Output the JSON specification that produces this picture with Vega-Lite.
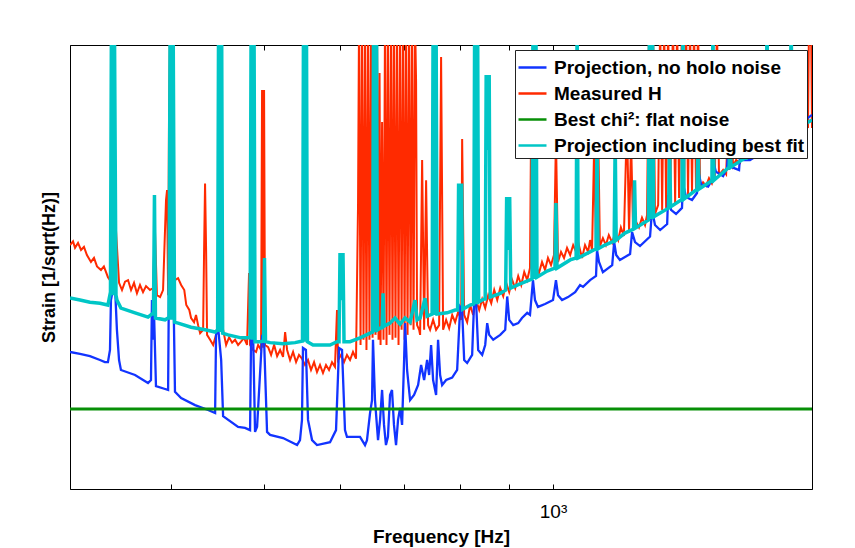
{
"$schema": "https://vega.github.io/schema/vega-lite/v6.json",
"width": 742, "height": 444,
"autosize": {"type": "none"},
"padding": {"left": 70, "top": 45, "right": 43, "bottom": 59},
"background": "white",
"config": {
 "view": {"stroke": "black", "strokeWidth": 1},
 "font": "Liberation Sans",
 "axis": {"grid": false, "domainColor": "black", "tickColor": "black", "labelColor": "black", "titleColor": "black", "labelFont": "Liberation Sans", "titleFont": "Liberation Sans"},
 "legend": {"orient": "top-right", "offset": 5, "fillColor": "white", "strokeColor": "#222", "padding": 2, "symbolType": "stroke", "symbolSize": 784, "symbolStrokeWidth": 2.5, "labelFont": "Liberation Sans", "labelFontSize": 19, "labelFontWeight": "bold", "labelColor": "black", "rowPadding": -5, "labelOffset": 6, "labelLimit": 400}
},
"resolve": {"axis": {"x": "independent"}},
"encoding": {
 "y": {"field": "s", "type": "quantitative", "scale": {"type": "log", "domain": [1, 1000], "nice": false},
       "axis": {"labels": false, "ticks": false, "domain": false, "title": "Strain [1/sqrt(Hz)]", "titleFontSize": 18, "titleFontWeight": "bold", "titlePadding": 12}}
},
"datasets": {
"red": [
{"f":314,"s":44.5},{"f":316.3,"s":47.1},{"f":317.8,"s":42.6},{"f":320.1,"s":46.0},{"f":322.4,"s":41.2},{"f":324.7,"s":43.2},{"f":327.0,"s":38.1},{"f":330.2,"s":34.2},{"f":332.6,"s":36.4},{"f":335.0,"s":31.9},{"f":338.2,"s":30.2},{"f":340.6,"s":31.9},{"f":343.9,"s":27.0},{"f":345.6,"s":25.8},{"f":347.3,"s":89.7},{"f":349.0,"s":155},{"f":350.6,"s":56.2},{"f":353.2,"s":24.7},{"f":355.7,"s":22.1},{"f":358.3,"s":25.2},{"f":360.9,"s":25.8},{"f":363.5,"s":22.1},{"f":366.1,"s":24.7},{"f":368.7,"s":21.0},{"f":371.4,"s":23.9},{"f":374.1,"s":21.4},{"f":376.8,"s":23.5},{"f":380.4,"s":22.1},{"f":383.1,"s":22.8},{"f":384.9,"s":58.0},{"f":386.8,"s":20.4},{"f":389.7,"s":19.8},{"f":392.5,"s":22.1},{"f":395.3,"s":89.7},{"f":396.3,"s":104.8},{"f":397.3,"s":20.4},{"f":398.2,"s":364},{"f":399.2,"s":1500},{"f":400.2,"s":41.2},{"f":403.9,"s":25.8},{"f":406.9,"s":26.6},{"f":409.9,"s":23.9},{"f":413.0,"s":22.1},{"f":415.0,"s":17.5},{"f":418.0,"s":16.2},{"f":419.8,"s":14.3},{"f":422.8,"s":13.4},{"f":424.8,"s":15.0},{"f":426.9,"s":12.8},{"f":429.0,"s":11.3},{"f":432.1,"s":11.9},{"f":433.1,"s":41.2},{"f":434.1,"s":116},{"f":435.2,"s":41.2},{"f":436.2,"s":11.0},{"f":439.4,"s":10.2},{"f":442.6,"s":9.4},{"f":445.7,"s":11.0},{"f":450.1,"s":12.4},{"f":453.3,"s":11.9},{"f":456.6,"s":9.4},{"f":459.9,"s":10.6},{"f":463.2,"s":9.75},{"f":466.5,"s":10.2},{"f":469.9,"s":9.4},{"f":473.2,"s":9.9},{"f":476.6,"s":10.5},{"f":480.1,"s":9.4},{"f":482.4,"s":28.8},{"f":483.6,"s":9.4},{"f":487.1,"s":8.7},{"f":490.6,"s":8.43},{"f":493.0,"s":9.4},{"f":496.5,"s":8.7},{"f":497.7,"s":497},{"f":499.0,"s":9.0},{"f":500.1,"s":497},{"f":501.3,"s":9.4},{"f":505.0,"s":9.1},{"f":508.6,"s":8.05},{"f":512.3,"s":9.4},{"f":516.0,"s":7.91},{"f":519.7,"s":8.7},{"f":523.4,"s":7.8},{"f":526.0,"s":11.5},{"f":528.5,"s":8.7},{"f":532.3,"s":7.44},{"f":536.1,"s":8.43},{"f":540.0,"s":7.2},{"f":543.8,"s":8.05},{"f":547.7,"s":7.6},{"f":551.7,"s":6.89},{"f":555.7,"s":7.44},{"f":559.7,"s":6.37},{"f":563.8,"s":7.2},{"f":567.8,"s":6.17},{"f":571.9,"s":6.89},{"f":576.0,"s":6.08},{"f":580.2,"s":6.89},{"f":584.4,"s":6.37},{"f":588.6,"s":7.2},{"f":592.8,"s":6.69},{"f":595.7,"s":16.2},{"f":597.2,"s":7.44},{"f":601.4,"s":8.05},{"f":605.8,"s":7.2},{"f":610.1,"s":8.05},{"f":614.6,"s":7.44},{"f":619.0,"s":8.43},{"f":623.5,"s":7.6},{"f":626.5,"s":83.0},
{"f":628.0,"s":1500},{"f":630.3,"s":9.4},{"f":632.5,"s":1500},{"f":634.8,"s":10.2},{"f":637.1,"s":1500},{"f":639.3,"s":8.7},{"f":641.7,"s":1500},{"f":643.9,"s":10.2},{"f":646.3,"s":1500},{"f":648.7,"s":10.5},{"f":651.0,"s":1500},{"f":653.3,"s":11.0},{"f":655.7,"s":1500},{"f":658.1,"s":10.2},{"f":659.7,"s":647},{"f":661.3,"s":9.4},{"f":663.7,"s":301.5},{"f":666.0,"s":10.2},{"f":668.4,"s":1500},{"f":670.8,"s":9.4},{"f":673.1,"s":1500},{"f":675.6,"s":11.0},{"f":678.1,"s":1500},{"f":680.5,"s":10.2},{"f":682.9,"s":1500},{"f":685.4,"s":10.5},{"f":687.9,"s":1500},{"f":690.4,"s":9.4},{"f":693.0,"s":1500},{"f":695.5,"s":11.9},{"f":698.0,"s":1500},{"f":700.5,"s":10.2},{"f":703.0,"s":1500},{"f":705.5,"s":11.0},{"f":708.1,"s":1500},{"f":710.7,"s":12.8},{"f":713.2,"s":1500},{"f":715.7,"s":11.9},{"f":718.3,"s":1500},{"f":720.1,"s":562},{"f":721.8,"s":12.8},
{"f":725.4,"s":11.9},{"f":727.1,"s":11.0},{"f":730.6,"s":167},{"f":734.1,"s":11.9},{"f":737.6,"s":122},{"f":741.1,"s":12.8},{"f":744.7,"s":11.9},{"f":750.1,"s":13.9},{"f":755.5,"s":11.9},{"f":761.0,"s":12.8},{"f":764.6,"s":830},{"f":768.3,"s":11.9},{"f":773.9,"s":13.9},{"f":779.5,"s":12.2},{"f":785.2,"s":15.0},{"f":790.8,"s":13.4},{"f":796.5,"s":15.7},{"f":802.3,"s":13.9},{"f":804.2,"s":232},{"f":808.1,"s":15.0},{"f":813.9,"s":13.4},{"f":819.8,"s":17.5},{"f":825.7,"s":15.0},{"f":831.6,"s":18.9},{"f":837.8,"s":16.2},{"f":843.8,"s":19.2},{"f":849.9,"s":16.7},{"f":856.1,"s":20.4},{"f":862.3,"s":18.0},{"f":868.5,"s":22.1},{"f":874.8,"s":18.9},{"f":881.1,"s":22.8},{"f":887.5,"s":20.1},{"f":893.8,"s":24.7},{"f":900.3,"s":21.4},{"f":906.8,"s":25.8},{"f":913.3,"s":22.8},{"f":919.9,"s":27.5},{"f":926.6,"s":23.9},{"f":933.3,"s":29.3},{"f":940.0,"s":25.8},{"f":946.3,"s":31.1},{"f":948.6,"s":239},{"f":953.1,"s":27.9},{"f":959.9,"s":32.0},{"f":966.9,"s":28.8},{"f":974.0,"s":34.2},{"f":981.0,"s":30.2},{"f":988.0,"s":36.4},{"f":995.2,"s":32.6},{"f":1002.3,"s":38.1},{"f":1007.1,"s":239},{"f":1012.1,"s":34.2},{"f":1019.4,"s":40.0},{"f":1026.8,"s":36.4},{"f":1034.2,"s":42.6},{"f":1042,"s":38.1},{"f":1049.5,"s":44.5},{"f":1057,"s":40.0},{"f":1062.2,"s":46.6},
{"f":1067,"s":41.2},{"f":1072.2,"s":36.4},{"f":1079.8,"s":44.5},{"f":1087.8,"s":40.0},{"f":1093,"s":48.1},{"f":1098.2,"s":41.2},{"f":1103.5,"s":195},{"f":1108.7,"s":42.6},{"f":1114,"s":311},{"f":1119,"s":43.8},{"f":1127.1,"s":49.6},{"f":1135.2,"s":44.5},{"f":1143.2,"s":52.0},{"f":1152.5,"s":46.2},{"f":1160.8,"s":54.1},{"f":1169.2,"s":48.1},{"f":1176.8,"s":58.6},{"f":1185.3,"s":51.2},{"f":1194,"s":311},{"f":1200.1,"s":54.1},{"f":1205.9,"s":228},{"f":1211.7,"s":56.2},{"f":1220.4,"s":63.7},{"f":1229.0,"s":58.6},{"f":1237.9,"s":68.1},{"f":1246.9,"s":60.8},{"f":1253.0,"s":71.1},{"f":1259,"s":1500},{"f":1265.0,"s":65.7},{"f":1271.1,"s":1500},{"f":1277.1,"s":72.2},{"f":1286.8,"s":83.0},{"f":1293,"s":1500},{"f":1299.2,"s":76.8},{"f":1305.4,"s":1500},{"f":1311.7,"s":79.3},{"f":1318,"s":1500},{"f":1324,"s":83.0},{"f":1333.6,"s":1500},{"f":1340.3,"s":85.6},{"f":1346.7,"s":1500},{"f":1353.0,"s":92.5},{"f":1362.5,"s":1500},{"f":1369,"s":89.7},{"f":1375.9,"s":1500},{"f":1382.5,"s":96.9},{"f":1389,"s":1500},{"f":1395.7,"s":100},{"f":1402.4,"s":1500},{"f":1409.1,"s":104.8},{"f":1415.9,"s":1500},{"f":1423,"s":108},{"f":1433.2,"s":118},{"f":1443.6,"s":111.7},{"f":1453.7,"s":126},{"f":1464,"s":116},{"f":1474.5,"s":132},{"f":1481.6,"s":1500},{"f":1488.9,"s":132},{"f":1503.7,"s":143},{"f":1514.6,"s":134},{"f":1522,"s":311},{"f":1525.3,"s":143},{"f":1532.7,"s":311},{"f":1540.1,"s":152},{"f":1551.3,"s":167},{"f":1566,"s":160},{"f":1577.3,"s":311},{"f":1584.8,"s":172},{"f":1604,"s":181},{"f":1643,"s":201},{"f":1683,"s":221},{"f":1724,"s":247},{"f":1766,"s":267},{"f":1808,"s":297},{"f":1838.8,"s":301},{"f":1843.3,"s":275},{"f":1847.7,"s":1500},{"f":1856.6,"s":1500},{"f":1861,"s":275}
],
"blue": [
{"f":314,"s":8.43},{"f":321.6,"s":8.17},{"f":329.4,"s":7.91},{"f":337.4,"s":7.44},{"f":341.4,"s":7.2},{"f":343.9,"s":7.2},{"f":345.6,"s":8.7},{"f":346.4,"s":18.9},{"f":348.0,"s":22.1},{"f":349.8,"s":23.2},{"f":351.4,"s":11.9},{"f":353.2,"s":7.44},{"f":354.8,"s":6.37},{"f":367.0,"s":5.89},{"f":378.6,"s":5.2},{"f":381.3,"s":5.45},{"f":382.2,"s":18.9},{"f":383.1,"s":10.2},{"f":383.9,"s":17.5},{"f":385.9,"s":4.96},{"f":394.4,"s":4.74},{"f":397.3,"s":4.67},{"f":398.2,"s":31.6},{"f":400.2,"s":18.9},{"f":402.1,"s":30.2},{"f":403.9,"s":4.53},{"f":409.9,"s":4.11},{"f":423.8,"s":3.69},{"f":437.3,"s":3.42},{"f":444.7,"s":3.26},{"f":445.7,"s":11.0},{"f":447.9,"s":12.4},{"f":451.2,"s":7.44},{"f":453.3,"s":3.11},{"f":469.9,"s":2.63},{"f":477.8,"s":2.59},{"f":483.6,"s":2.5},{"f":484.8,"s":11.3},{"f":487.1,"s":11.3},{"f":489.4,"s":2.43},{"f":491.8,"s":2.63},{"f":497.7,"s":10.6},{"f":500.1,"s":10.2},{"f":503.7,"s":2.43},{"f":507.4,"s":2.32},{"f":523.4,"s":2.21},{"f":541.3,"s":1.98},{"f":545.1,"s":2.14},{"f":547.7,"s":2.93},{"f":549.0,"s":8.97},{"f":552.9,"s":8.7},{"f":555.7,"s":2.93},{"f":561.1,"s":2.14},{"f":567.8,"s":1.98},{"f":585.8,"s":2.07},{"f":594.3,"s":2.5},{"f":598.6,"s":8.97},{"f":602.9,"s":8.7},{"f":607.2,"s":2.5},{"f":610.1,"s":2.25},{"f":629.5,"s":2.25},{"f":637.1,"s":1.98},{"f":640.1,"s":2.14},{"f":644.8,"s":3.26},{"f":647.9,"s":3.99},{"f":649.4,"s":10.2},{"f":652.5,"s":3.99},{"f":657.3,"s":2.14},{"f":660.5,"s":2.93},{"f":663.7,"s":4.67},{"f":666.8,"s":2.71},{"f":669.9,"s":1.98},{"f":673.1,"s":2.25},{"f":676.5,"s":4.32},{"f":679.7,"s":4.67},{"f":682.9,"s":2.71},{"f":686.3,"s":1.98},{"f":689.6,"s":2.93},{"f":693.0,"s":3.53},{"f":696.3,"s":2.71},{"f":699.7,"s":7.44},{"f":701.3,"s":13.2},{"f":704.7,"s":6.37},{"f":709.8,"s":3.99},{"f":716.6,"s":4.32},{"f":723.6,"s":5.04},{"f":728.8,"s":6.89},{"f":734.1,"s":5.45},{"f":739.4,"s":7.44},{"f":743.0,"s":5.89},{"f":746.5,"s":9.4},{"f":750.1,"s":5.45},{"f":755.5,"s":4.32},{"f":759.1,"s":10.2},{"f":762.8,"s":5.89},{"f":766.5,"s":5.04},{"f":773.9,"s":5.45},{"f":785.2,"s":5.66},{"f":794.6,"s":6.37},{"f":800.4,"s":17.0},{"f":804.2,"s":16.2},{"f":808.1,"s":7.44},{"f":813.9,"s":7.1},{"f":823.7,"s":8.05},{"f":827.7,"s":18.9},{"f":831.6,"s":18.3},{"f":835.7,"s":8.7},{"f":843.8,"s":8.05},{"f":849.9,"s":9.4},{"f":854.0,"s":13.2},{"f":858.1,"s":11.0},{"f":866.4,"s":10.2},{"f":881.1,"s":11.0},{"f":891.7,"s":11.9},{"f":896.0,"s":20.0},{"f":900.3,"s":13.9},{"f":909.0,"s":12.8},{"f":920.0,"s":13.2},{"f":928.3,"s":14.3},{"f":940.0,"s":15.5},{"f":946.3,"s":15.0},{"f":953.1,"s":25.8},{"f":957.7,"s":18.9},{"f":964.6,"s":17.0},{"f":981.0,"s":17.8},{"f":1000,"s":18.9},{"f":1007.1,"s":25.8},{"f":1012.1,"s":20.4},{"f":1021.9,"s":18.9},{"f":1036.7,"s":19.8},{"f":1054.5,"s":21.4},{"f":1067,"s":23.9},{"f":1074.7,"s":23.2},{"f":1093,"s":25.8},{"f":1108.7,"s":27.5},{"f":1111.3,"s":41.2},{"f":1116.6,"s":34.2},{"f":1127.1,"s":29.2},{"f":1152.5,"s":32.6},{"f":1158,"s":46.6},{"f":1163.6,"s":38.1},{"f":1174,"s":35.3},{"f":1203,"s":38.7},{"f":1208.8,"s":54.5},{"f":1217.4,"s":46.6},{"f":1232,"s":43.8},{"f":1262,"s":50.8},{"f":1268.1,"s":76.8},{"f":1277.1,"s":60.8},{"f":1293,"s":56.2},{"f":1314.9,"s":61.7},{"f":1318,"s":96.9},{"f":1327.2,"s":76.8},{"f":1343.2,"s":72.2},{"f":1362.5,"s":79.3},{"f":1365.7,"s":116},{"f":1375.9,"s":93.9},{"f":1395.7,"s":89.7},{"f":1412.5,"s":100},{"f":1415.9,"s":143},{"f":1426.4,"s":114.6},{"f":1450.6,"s":110.4},{"f":1464,"s":122},{"f":1467.5,"s":167},{"f":1478,"s":139},{"f":1503.7,"s":130},{"f":1517.9,"s":147.5},{"f":1522,"s":195},{"f":1532.7,"s":150},{"f":1562.3,"s":143},{"f":1569.8,"s":219},{"f":1581.1,"s":167},{"f":1604,"s":167},{"f":1683,"s":204},{"f":1766,"s":261},{"f":1861,"s":337}
],
"green": [{"f":314,"s":3.47},{"f":1861,"s":3.47}],
"cyan": [
{"f":314,"s":19.5},{"f":321.6,"s":18.9},{"f":329.4,"s":18.3},{"f":337.4,"s":18.0},{"f":343.9,"s":17.5},{"f":346.0,"s":21.4},{"f":346.8,"s":1500},{"f":348.1,"s":20.4},{"f":349.3,"s":1500},{"f":350.6,"s":20.4},{"f":351.4,"s":18.9},{"f":354.8,"s":16.7},{"f":367.0,"s":15.5},{"f":378.6,"s":14.5},{"f":382.2,"s":15.2},{"f":383.6,"s":15.2},{"f":384.5,"s":96.9},{"f":385.4,"s":14.3},{"f":394.4,"s":13.9},{"f":397.3,"s":14.3},{"f":398.2,"s":14.3},{"f":399.2,"s":1500},{"f":400.6,"s":13.9},{"f":402.1,"s":1500},{"f":403.5,"s":13.4},{"f":406.9,"s":13.2},{"f":419.8,"s":12.4},{"f":434.1,"s":11.9},{"f":444.7,"s":11.5},{"f":447.4,"s":11.9},{"f":448.4,"s":1500},{"f":450.1,"s":11.5},{"f":451.7,"s":1500},{"f":452.8,"s":11.3},{"f":458.8,"s":11.0},{"f":473.2,"s":10.5},{"f":482.4,"s":10.5},{"f":483.6,"s":10.5},{"f":484.8,"s":1500},{"f":486.5,"s":10.2},{"f":488.2,"s":1500},{"f":489.4,"s":9.9},{"f":495.3,"s":9.9},{"f":499.5,"s":10.0},{"f":500.6,"s":36.4},{"f":501.8,"s":9.9},{"f":507.4,"s":9.75},{"f":523.4,"s":9.6},{"f":538.7,"s":9.75},{"f":548.4,"s":10.0},{"f":549.7,"s":1500},{"f":551.7,"s":9.9},{"f":553.6,"s":1500},{"f":554.9,"s":9.9},{"f":562.4,"s":9.4},{"f":585.8,"s":9.4},{"f":595.7,"s":9.9},{"f":598.6,"s":9.9},{"f":600.0,"s":39.3},{"f":602.2,"s":18.9},{"f":604.3,"s":39.3},{"f":605.8,"s":9.9},{"f":614.6,"s":9.9},{"f":629.5,"s":10.5},{"f":644.8,"s":11.3},{"f":648.7,"s":11.5},{"f":650.2,"s":1500},{"f":652.5,"s":11.5},{"f":654.9,"s":1500},{"f":656.4,"s":11.9},{"f":662.1,"s":12.3},{"f":663.7,"s":12.3},{"f":665.3,"s":21.0},{"f":666.8,"s":12.6},{"f":676.5,"s":13.2},{"f":684.6,"s":14.3},{"f":693.0,"s":13.0},{"f":701.3,"s":14.3},{"f":709.8,"s":13.4},{"f":718.3,"s":18.9},{"f":721.8,"s":13.9},{"f":727.1,"s":14.3},{"f":735.8,"s":19.5},{"f":739.4,"s":14.7},{"f":748.3,"s":15.2},{"f":750.1,"s":1500},{"f":752.7,"s":15.0},{"f":755.5,"s":1500},{"f":757.3,"s":15.2},{"f":775.7,"s":15.5},{"f":790.8,"s":16.2},{"f":795.5,"s":16.2},{"f":797.4,"s":116},{"f":800.4,"s":41.2},{"f":803.3,"s":116},{"f":805.2,"s":16.4},{"f":819.8,"s":17.5},{"f":826.7,"s":17.8},{"f":828.7,"s":1500},{"f":831.6,"s":17.8},{"f":834.6,"s":1500},{"f":836.6,"s":18.3},{"f":847.9,"s":19.2},{"f":849.9,"s":19.2},{"f":851.9,"s":627},{"f":854.9,"s":195},{"f":858.1,"s":627},{"f":860.2,"s":19.8},{"f":881.1,"s":21.0},{"f":892.7,"s":22.1},{"f":894.8,"s":93.9},{"f":898.2,"s":41.2},{"f":901.3,"s":93.9},{"f":903.6,"s":22.8},{"f":924,"s":24.3},{"f":950.8,"s":26.2},{"f":953.1,"s":1500},{"f":956.5,"s":26.2},{"f":959.9,"s":1500},{"f":962.3,"s":27.0},{"f":985.8,"s":29.7},{"f":1004.7,"s":31.1},{"f":1007.1,"s":85.6},{"f":1009.7,"s":31.1},{"f":1042,"s":35.3},{"f":1057,"s":36.4},{"f":1059.5,"s":1500},{"f":1062.2,"s":36.4},{"f":1093,"s":40.0},{"f":1108.7,"s":42.0},{"f":1111.3,"s":267},{"f":1114,"s":42.0},{"f":1132.4,"s":44.5},{"f":1158,"s":47.4},{"f":1160.8,"s":228},{"f":1163.6,"s":48.1},{"f":1188,"s":53.6},{"f":1213.1,"s":57.1},{"f":1216,"s":122},{"f":1218.9,"s":58.0},{"f":1257.3,"s":65.7},{"f":1260.2,"s":1500},{"f":1265.0,"s":66.8},{"f":1269.6,"s":1500},{"f":1272.6,"s":69.0},{"f":1314.9,"s":78.1},{"f":1319.5,"s":79.3},{"f":1322.6,"s":228},{"f":1325.6,"s":80.6},{"f":1359.3,"s":89.7},{"f":1362.5,"s":89.7},{"f":1365.7,"s":1500},{"f":1369,"s":91.1},{"f":1409.1,"s":104.8},{"f":1412.5,"s":104.8},{"f":1415.9,"s":228},{"f":1419.3,"s":106.4},{"f":1460.5,"s":120},{"f":1464,"s":120},{"f":1467.5,"s":1500},{"f":1471,"s":122},{"f":1522,"s":147.5},{"f":1525.3,"s":147.5},{"f":1529,"s":228},{"f":1532.7,"s":150},{"f":1584.8,"s":172},{"f":1588.6,"s":172},{"f":1592.5,"s":228},{"f":1596.4,"s":175},{"f":1662.7,"s":204.5},{"f":1666.7,"s":208},{"f":1670.7,"s":1500},{"f":1674.7,"s":211},{"f":1761.6,"s":255},{"f":1766,"s":259},{"f":1770.2,"s":1500},{"f":1774.5,"s":263},{"f":1861,"s":311}
]
},
"layer": [
{"data": {"name": "red"}, "mark": {"type": "line", "strokeWidth": 2, "clip": true},
 "encoding": {
  "x": {"field": "f", "type": "quantitative", "scale": {"type": "log", "domain": [314, 1861], "nice": false},
        "axis": {"orient": "bottom", "values": [400, 500, 600, 700, 800, 900, 1000], "labelExpr": "datum.value == 1000 ? '10³' : ''", "tickSize": -5, "labelPadding": 18, "labelFontSize": 19, "title": "Frequency [Hz]", "titleFontSize": 19, "titleFontWeight": "bold", "titlePadding": 6}},
  "color": {"datum": "Measured H", "type": "nominal",
   "scale": {"domain": ["Projection, no holo noise", "Measured H", "Best chi²: flat noise", "Projection including best fit"], "range": ["#1234ff", "#ff2a00", "#078f07", "#00c6c6"]},
   "legend": {"title": null}}
 }},
{"data": {"name": "blue"}, "mark": {"type": "line", "strokeWidth": 2.3, "clip": true},
 "encoding": {
  "x": {"field": "f", "type": "quantitative", "axis": null},
  "color": {"datum": "Projection, no holo noise", "type": "nominal"}
 }},
{"data": {"name": "green"}, "mark": {"type": "line", "strokeWidth": 3, "clip": true},
 "encoding": {
  "x": {"field": "f", "type": "quantitative", "axis": {"orient": "top", "values": [400, 500, 600, 700, 800, 900, 1000], "labels": false, "tickSize": -5, "title": null}},
  "color": {"datum": "Best chi²: flat noise", "type": "nominal"}
 }},
{"data": {"name": "cyan"}, "mark": {"type": "line", "strokeWidth": 3.5, "clip": true},
 "encoding": {
  "x": {"field": "f", "type": "quantitative", "axis": null},
  "color": {"datum": "Projection including best fit", "type": "nominal"}
 }}
]
}
